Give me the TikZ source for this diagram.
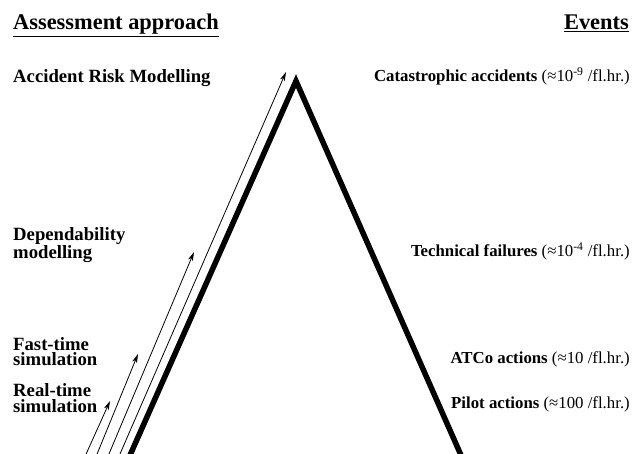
\documentclass[tikz,border=0pt]{standalone}
\usepackage{fontspec}
\setmainfont{Liberation Serif}
\usetikzlibrary{arrows.meta}
\begin{document}
\begin{tikzpicture}[x=1pt,y=-1pt,
  head/.style={font=\fontsize{22.4}{24}\selectfont\bfseries, inner sep=0pt},
  lbl/.style={font=\fontsize{18.7}{15.8}\selectfont\bfseries, inner sep=0pt, align=left, anchor=base west},
  evt/.style={font=\fontsize{16.8}{18}\selectfont, inner sep=0pt, anchor=base east},
  side/.style={line width=5.5pt, line join=miter},
  up/.style={line width=0.8pt, -{Stealth[length=9pt,width=5pt,inset=2.5pt]}}]
\useasboundingbox (0,0) rectangle (632,454);
\clip (0,0) rectangle (632,454);
% headings
\node[head, anchor=base west] (ha) at (13,30) {\underline{Assessment approach}};
\node[head, anchor=base east] (he) at (629,30) {\underline{Events}};
% left labels
\node[lbl] (l1) at (13,83) {Accident Risk Modelling};
\node[lbl] (l2) at (13,259) {Dependability\\modelling};
\node[lbl] (l3) at (13,366) {Fast-time\\simulation};
\node[lbl] (l4) at (13,412) {Real-time\\simulation};
% right labels
\node[evt] (r1) at (630,82) {\textbf{Catastrophic accidents} (≈10\textsuperscript{-9} /fl.hr.)};
\node[evt] (r2) at (630,257) {\textbf{Technical failures} (≈10\textsuperscript{-4} /fl.hr.)};
\node[evt] (r3) at (630,363) {\textbf{ATCo actions} (≈10 /fl.hr.)};
\node[evt] (r4) at (630,408) {\textbf{Pilot actions} (≈100 /fl.hr.)};
% triangle
\coordinate (apex) at (296,81);
\coordinate (lf) at (127,462);
\coordinate (rf) at (464,462);
\draw[side] (lf) -- (apex) -- (rf);
% arrows
\coordinate (s1) at (82.5,462);
\coordinate (t1) at (110,401);
\coordinate (s2) at (93.8,462);
\coordinate (t2) at (138,354);
\coordinate (s3) at (105.6,462);
\coordinate (t3) at (194,252);
\coordinate (s4) at (116.5,462);
\coordinate (t4) at (286,72);
\draw[up] (s1) -- (t1);
\draw[up] (s2) -- (t2);
\draw[up] (s3) -- (t3);
\draw[up] (s4) -- (t4);
\end{tikzpicture}
\end{document}
